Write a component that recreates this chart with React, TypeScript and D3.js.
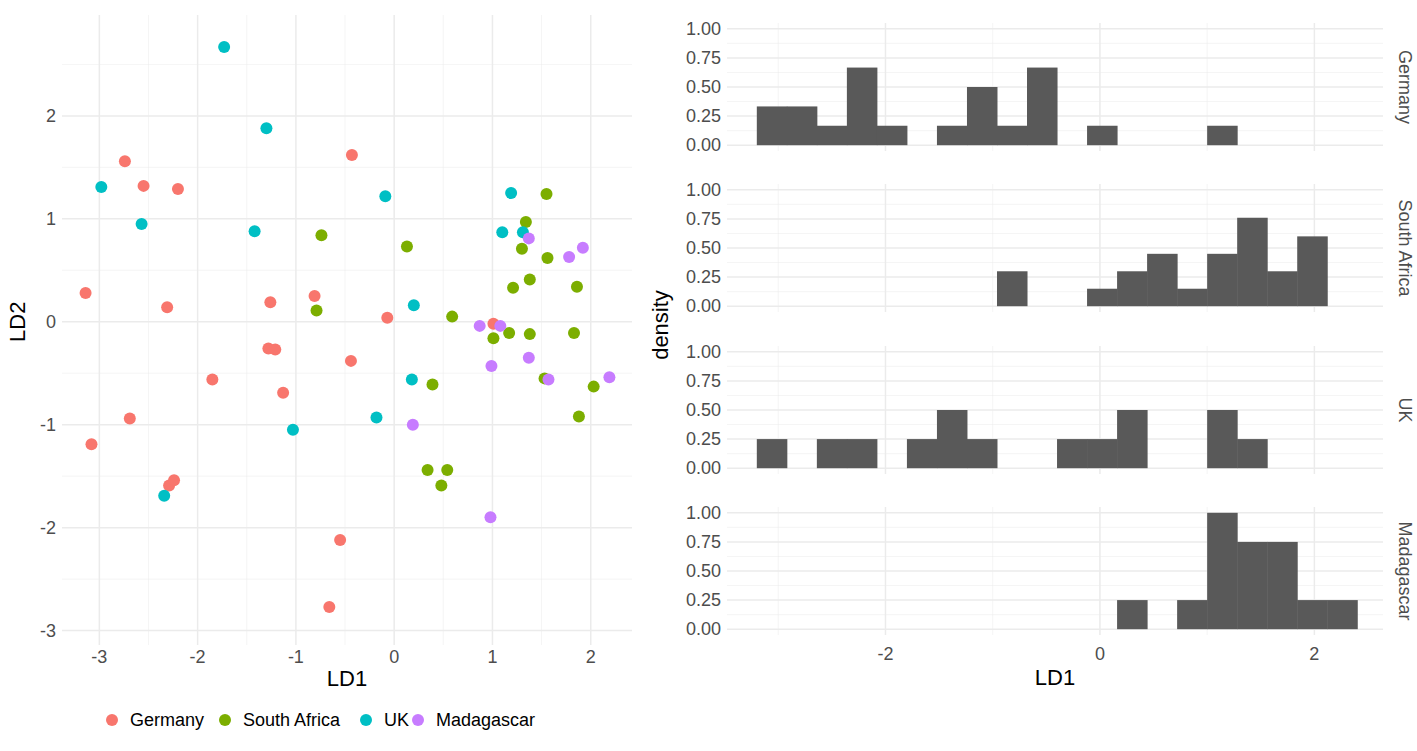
import React from "react";
import * as d3 from "d3";

const countries = ["Germany", "South Africa", "UK", "Madagascar"];
const colors = ["#F8766D", "#7CAE00", "#00BFC4", "#C77CFF"];

// LD1, LD2 per country
const germany: [number, number][] = [
  [-2.74, 1.56], [-2.55, 1.32], [-2.2, 1.29], [-0.43, 1.62], [-3.14, 0.28], [-2.31, 0.14],
  [-1.26, 0.19], [-0.81, 0.25], [-0.07, 0.04], [-1.28, -0.26], [-1.21, -0.27], [-1.13, -0.69],
  [-0.44, -0.38], [-1.85, -0.56], [-2.69, -0.94], [-3.08, -1.19], [-2.29, -1.59], [-2.24, -1.54],
  [-0.55, -2.12], [-0.66, -2.77], [1.01, -0.02],
];
const southAfrica: [number, number][] = [
  [1.55, 1.24], [1.34, 0.97], [-0.74, 0.84], [0.13, 0.73], [1.3, 0.71], [1.56, 0.62],
  [1.38, 0.41], [1.21, 0.33], [1.86, 0.34], [-0.79, 0.11], [0.59, 0.05], [1.01, -0.16],
  [1.17, -0.11], [1.38, -0.12], [1.83, -0.11], [0.39, -0.61], [1.53, -0.55], [2.03, -0.63],
  [1.88, -0.92], [0.34, -1.44], [0.54, -1.44], [0.48, -1.59],
];
const uk: [number, number][] = [
  [-1.73, 2.67], [-1.3, 1.88], [-2.98, 1.31], [-2.57, 0.95], [-1.42, 0.88], [-0.09, 1.22],
  [1.19, 1.25], [1.1, 0.87], [1.31, 0.87], [0.2, 0.16], [0.18, -0.56], [-0.18, -0.93],
  [-1.03, -1.05], [-2.34, -1.69],
];
const madagascar: [number, number][] = [
  [1.37, 0.81], [1.92, 0.72], [1.78, 0.63], [0.87, -0.04], [1.08, -0.04], [1.37, -0.35],
  [0.99, -0.43], [1.57, -0.56], [2.19, -0.54], [0.19, -1.0], [0.98, -1.9],
];
const points = [germany, southAfrica, uk, madagascar];

// histogram: bins start at -3.2, width 0.28
const binStart = -3.2;
const binWidth = 0.28;
const densGermany = [0.333, 0.333, 0.167, 0.667, 0.167, 0, 0.167, 0.5, 0.167, 0.667, 0, 0.167, 0, 0, 0, 0.167, 0, 0, 0, 0];
const densSouthAfrica = [0, 0, 0, 0, 0, 0, 0, 0, 0.3, 0, 0, 0.15, 0.3, 0.45, 0.15, 0.45, 0.76, 0.3, 0.6, 0];
const densUK = [0.25, 0, 0.25, 0.25, 0, 0.25, 0.5, 0.25, 0, 0, 0.25, 0.25, 0.5, 0, 0, 0.5, 0.25, 0, 0, 0];
const densMadagascar = [0, 0, 0, 0, 0, 0, 0, 0, 0, 0, 0, 0, 0.25, 0, 0.25, 1.0, 0.75, 0.75, 0.25, 0.25];
const densities = [densGermany, densSouthAfrica, densUK, densMadagascar];
const densTicks = [0, 0.25, 0.5, 0.75, 1.0];

const FONT = "'Liberation Sans', Arial, sans-serif";
const GRID = "#ebebeb";
const TICK = "#4d4d4d";

export default function App() {
  // scatter
  const sx = d3.scaleLinear().domain([-3.38, 2.42]).range([62, 632]);
  const sy = d3.scaleLinear().domain([-3.14, 2.98]).range([645, 15]);
  const sxMajor = [-3, -2, -1, 0, 1, 2];
  const sxMinor = [-2.5, -1.5, -0.5, 0.5, 1.5];
  const syMajor = [-3, -2, -1, 0, 1, 2];
  const syMinor = [-2.5, -1.5, -0.5, 0.5, 1.5, 2.5];

  // histogram
  const hx = d3.scaleLinear().domain([-3.478, 2.64]).range([727, 1383]);
  const hxMajor = [-2, 0, 2];
  const hxMinor = [-3, -1, 1];
  const panelTop = [23, 184, 346, 507];
  const panelH = 128;

  return (
    <svg width={1417} height={751} style={{ position: "absolute", left: 0, top: 0, background: "#fff" }} fontFamily={FONT}>
      {/* scatter grid */}
      {sxMinor.map((v) => <line key={"xm" + v} x1={sx(v)} x2={sx(v)} y1={15} y2={645} stroke={GRID} strokeWidth={0.8} opacity={0.6} />)}
      {syMinor.map((v) => <line key={"ym" + v} y1={sy(v)} y2={sy(v)} x1={62} x2={632} stroke={GRID} strokeWidth={0.8} opacity={0.6} />)}
      {sxMajor.map((v) => <line key={"xM" + v} x1={sx(v)} x2={sx(v)} y1={15} y2={645} stroke={GRID} strokeWidth={1.5} />)}
      {syMajor.map((v) => <line key={"yM" + v} y1={sy(v)} y2={sy(v)} x1={62} x2={632} stroke={GRID} strokeWidth={1.5} />)}
      {points.map((pts, i) =>
        pts.map((p, j) => <circle key={i + "-" + j} cx={sx(p[0])} cy={sy(p[1])} r={6} fill={colors[i]} />)
      )}
      {sxMajor.map((v) => (
        <text key={"xt" + v} x={sx(v)} y={663} fontSize={18} fill={TICK} textAnchor="middle">{v}</text>
      ))}
      {syMajor.map((v) => (
        <text key={"yt" + v} x={56} y={sy(v) + 6} fontSize={18} fill={TICK} textAnchor="end">{v}</text>
      ))}
      <text x={347} y={686} fontSize={22} textAnchor="middle">LD1</text>
      <text transform={`translate(25,${sy(0)}) rotate(-90)`} fontSize={22} textAnchor="middle">LD2</text>

      {/* legend */}
      {countries.map((c, i) => {
        const lx = [112, 225, 366, 418][i];
        return (
          <g key={c}>
            <circle cx={lx} cy={720} r={6} fill={colors[i]} />
            <text x={lx + 18} y={726} fontSize={18} fill="#000">{c}</text>
          </g>
        );
      })}

      {/* histogram panels */}
      {densities.map((dens, pi) => {
        const top = panelTop[pi];
        const hy = d3.scaleLinear().domain([-0.05, 1.05]).range([top + panelH, top]);
        const minorY = [0.125, 0.375, 0.625, 0.875];
        return (
          <g key={"p" + pi}>
            {hxMinor.map((v) => <line key={"hm" + v} x1={hx(v)} x2={hx(v)} y1={top} y2={top + panelH} stroke={GRID} strokeWidth={0.8} opacity={0.6} />)}
            {minorY.map((v) => <line key={"hym" + v} x1={727} x2={1383} y1={hy(v)} y2={hy(v)} stroke={GRID} strokeWidth={0.8} opacity={0.6} />)}
            {hxMajor.map((v) => <line key={"hM" + v} x1={hx(v)} x2={hx(v)} y1={top} y2={top + panelH} stroke={GRID} strokeWidth={1.5} />)}
            {densTicks.map((v) => <line key={"hyM" + v} x1={727} x2={1383} y1={hy(v)} y2={hy(v)} stroke={GRID} strokeWidth={1.5} />)}
            {dens.map((d, k) =>
              d > 0 ? (
                <rect key={k} x={hx(binStart + k * binWidth)} width={hx(binStart + (k + 1) * binWidth) - hx(binStart + k * binWidth) + 0.5}
                  y={hy(d)} height={hy(0) - hy(d)} fill="#595959" />
              ) : null
            )}
            {densTicks.map((v) => (
              <text key={"ht" + v} x={721} y={hy(v) + 6} fontSize={18} fill={TICK} textAnchor="end">{d3.format(".2f")(v)}</text>
            ))}
            <text transform={`translate(1399,${top + panelH / 2}) rotate(90)`} fontSize={18} fill={TICK} textAnchor="middle">{countries[pi]}</text>
          </g>
        );
      })}
      {hxMajor.map((v) => (
        <text key={"hxt" + v} x={hx(v)} y={660} fontSize={18} fill={TICK} textAnchor="middle">{v}</text>
      ))}
      <text x={1055} y={685} fontSize={22} textAnchor="middle">LD1</text>
      <text transform={`translate(668,325) rotate(-90)`} fontSize={22} textAnchor="middle">density</text>
    </svg>
  );
}
